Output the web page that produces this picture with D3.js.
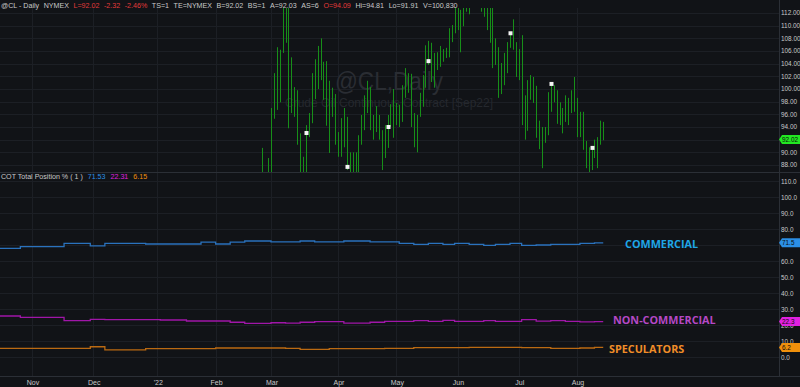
<!DOCTYPE html>
<html lang="en">
<head>
<meta charset="UTF-8">
<script src="https://d3js.org/d3.v7.min.js"></script>
<title>@CL Daily - COT Total Position %</title>
<style>
  body { margin: 0; background: #111317; }
  svg { display: block; font-family: "Liberation Sans", Arial, sans-serif; }
</style>
</head>
<body>
<div id="chart"></div>
<script>
// ---- data ----
const holidays = ["2021-11-25", "2021-12-24", "2022-01-17", "2022-02-21",
  "2022-04-15", "2022-05-30", "2022-06-20", "2022-07-04"];

// daily bars of the Sep22 contract, first bar on barStart
const barStart = "2022-02-24";
const barHigh = [
  90.7, 86.6, 89.1, 97.0, 102.5, 106.6, 106.2, 114.5, 115.0, 114.0,
  105.0, 100.3, 99.8, 93.0, 89.3, 94.3, 96.2, 102.5, 104.7, 106.8,
  108.0, 104.3, 104.4, 101.3, 100.2, 99.2, 93.2, 95.4, 97.0, 95.6,
  90.0, 90.0, 90.0, 92.7, 95.9, 99.0, 101.3, 100.3, 95.9, 97.3,
  95.9, 93.5, 94.3, 95.9, 97.6, 100.0, 97.8, 97.5, 100.6, 103.3,
  102.5, 102.4, 96.2, 95.9, 99.4, 102.2, 106.9, 107.6, 107.3, 105.7,
  105.8, 106.8, 106.3, 106.5, 109.6, 110.1, 113.8, 114.2, 112.5, 113.9,
  114.3, 114.6, 115.4, 116.0, 115.2, 114.1, 113.6, 114.0, 113.9, 113.1,
  108.0, 106.6, 104.1, 105.7, 107.4, 108.8, 111.0, 107.4, 106.3, 108.5,
  99.0, 101.4, 102.2, 101.9, 100.5, 95.0, 94.0, 94.0, 99.5, 100.9,
  100.6, 99.8, 97.9, 97.0, 99.0, 98.6, 99.8, 101.9, 98.6, 96.4,
  96.4, 91.8, 90.8, 90.8, 92.0, 92.4, 95.0, 94.81
];
const barLow = [
  86.0, 84.8, 86.0, 86.0, 95.3, 96.7, 97.9, 105.7, 107.3, 93.8,
  96.2, 95.6, 91.2, 85.5, 85.8, 85.9, 92.4, 94.6, 98.4, 100.0,
  101.4, 98.3, 94.2, 89.9, 95.6, 91.2, 89.3, 89.3, 90.8, 87.2,
  86.2, 86.0, 85.8, 86.3, 91.2, 93.5, 96.2, 93.5, 92.0, 93.2,
  92.0, 87.2, 89.1, 90.7, 94.0, 92.3, 94.3, 94.0, 94.8, 98.6,
  99.4, 94.0, 90.8, 90.0, 95.6, 97.2, 100.2, 103.8, 101.1, 100.2,
  103.0, 103.5, 104.3, 104.9, 105.0, 107.4, 108.8, 109.3, 105.8, 109.9,
  112.2, 111.8, 113.1, 113.3, 113.0, 112.2, 111.4, 109.3, 107.3, 103.3,
  103.8, 98.6, 99.2, 100.6, 102.5, 106.5, 106.2, 101.9, 101.4, 94.3,
  92.0, 93.4, 98.3, 97.8, 92.3, 90.5, 87.5, 91.5, 92.7, 96.4,
  97.9, 94.5, 94.3, 93.0, 94.8, 94.3, 96.2, 96.4, 92.4, 92.4,
  90.4, 87.5, 86.4, 87.2, 89.1, 87.5, 91.2, 91.91
];
const lastPrice = 92.02;

// white markers
const markerDates = ["2022-03-17", "2022-04-06", "2022-04-27", "2022-05-17",
  "2022-06-07", "2022-06-28", "2022-07-19", "2022-08-08"];
const markerPrices = [93.05, 87.7, 94.0, 104.4, 114.5, 108.8, 100.8, 90.7];

// weekly COT (Tuesdays from 2021-10-12 to 2022-08-09)
const cotFirst = "2021-10-12", cotLast = "2022-08-09";
const commercial = [
  68.1, 68.1, 69.2, 69.2, 69.2, 71.2, 71.2, 69.6, 71.2, 71.2,
  71.2, 70.8, 70.8, 70.8, 70.8, 72.0, 70.8, 72.0, 72.7, 72.7,
  72.1, 72.1, 72.7, 72.1, 72.1, 72.7, 72.7, 72.1, 72.1, 71.2,
  70.6, 71.2, 70.6, 71.2, 70.6, 70.0, 70.6, 71.2, 70.0, 70.2,
  70.6, 70.6, 71.2, 71.53
];
const nonCommercial = [
  25.8, 25.8, 25.0, 25.0, 25.0, 22.9, 22.9, 23.7, 23.5, 23.5,
  23.5, 23.5, 23.3, 23.3, 22.7, 22.7, 22.7, 21.9, 21.2, 21.2,
  21.6, 21.4, 21.9, 22.3, 22.3, 21.4, 21.4, 21.9, 22.5, 22.5,
  22.9, 22.5, 23.1, 22.5, 22.5, 22.9, 22.5, 22.5, 23.5, 22.6,
  22.9, 22.5, 22.1, 22.31
];
const speculators = [
  5.6, 5.6, 5.6, 5.6, 5.6, 5.6, 5.6, 6.6, 4.6, 4.6,
  4.6, 5.4, 5.4, 5.4, 5.4, 5.4, 5.8, 5.8, 5.8, 5.8,
  5.8, 5.6, 5.0, 5.0, 5.4, 5.4, 5.4, 5.4, 5.6, 5.6,
  6.0, 6.0, 6.0, 6.0, 6.2, 6.2, 6.2, 6.2, 6.0, 6.0,
  5.6, 5.6, 5.8, 6.15
];
const seriesNames = ["COMMERCIAL", "NON-COMMERCIAL", "SPECULATORS"];

// axis labels
const monthLabels = ["Nov", "Dec", "'22", "Feb", "Mar", "Apr", "May", "Jun", "Jul", "Aug"];
const monthStarts = ["2021-11-01", "2021-12-01", "2022-01-03", "2022-02-01", "2022-03-01",
  "2022-04-01", "2022-05-02", "2022-06-01", "2022-07-01", "2022-08-01"];
const priceTicks = [112, 110, 108, 106, 104, 102, 100, 98, 96, 94, 90, 88];
const cotTicks = [110, 100, 90, 80, 60, 50, 40, 30, 20, 10, 0];

// header strings
const headerText = ["@CL - Daily", "NYMEX", "L=92.02", "-2.32", "-2.46%", "TS=1", "TE=NYMEX",
  "B=92.02", "BS=1", "A=92.03", "AS=6", "O=94.09", "Hi=94.81", "Lo=91.91", "V=100,830"];
const headerRed = [false, false, true, true, true, false, false,
  false, false, false, false, true, false, false, false];
const cotLegend = ["COT Total Position % ( 1 )", "71.53", "22.31", "6.15"];

// ---- layout ----
const width = 800, height = 387;
const axisX = 779;
const priceTop = 8, priceBottom = 172;
const cotTop = 174, cotBottom = 376;

const bg = "#111317", grid = "#1c1f25", textCol = "#c9c9c9";
const lineColors = ["#2a72bd", "#a016a8", "#bb6a12"];
const badgeColors = ["#2b8fe6", "#e021e0", "#f0900c"];
const labelColors = ["#1fa6e6", "#b548c6", "#f08d28"];

// trading calendar for the x axis
const parse = d3.timeParse("%Y-%m-%d");
const fmt = d3.timeFormat("%Y-%m-%d");
const holidaySet = new Set(holidays);
const tradingDays = d3.timeDay.range(parse("2021-10-01"), parse("2022-08-13"))
  .filter(d => d.getDay() !== 0 && d.getDay() !== 6 && !holidaySet.has(fmt(d)));
const dayPos = new Map(tradingDays.map((d, i) => [fmt(d), i]));
const origin = dayPos.get("2021-11-01");
const idx = s => dayPos.get(s) - origin;

const x = d3.scaleLinear()
  .domain([idx("2021-11-01"), idx("2022-08-01")])
  .range([32, 577]);

const yPrice = d3.scaleLinear().domain([88, 112]).range([165, 13]);
const yCot = d3.scaleLinear().domain([0, 110]).range([357.3, 181.3]);

const svg = d3.select("#chart").append("svg")
  .attr("width", width)
  .attr("height", height);

svg.append("rect").attr("width", width).attr("height", height).attr("fill", bg);

const defs = svg.append("defs");
defs.append("clipPath").attr("id", "clip-price").append("rect")
  .attr("x", 0).attr("y", priceTop).attr("width", axisX).attr("height", priceBottom - priceTop);
defs.append("clipPath").attr("id", "clip-cot").append("rect")
  .attr("x", 0).attr("y", cotTop).attr("width", axisX).attr("height", cotBottom - cotTop);

// gridlines
const gridG = svg.append("g").attr("stroke", grid).attr("stroke-width", 1);
gridG.selectAll("line.hp").data(priceTicks.concat([92])).join("line")
  .attr("class", "hp")
  .attr("x1", 0).attr("x2", axisX)
  .attr("y1", d => Math.round(yPrice(d)) + 0.5).attr("y2", d => Math.round(yPrice(d)) + 0.5);
gridG.selectAll("line.hc").data(cotTicks.concat([70])).join("line")
  .attr("class", "hc")
  .attr("x1", 0).attr("x2", axisX)
  .attr("y1", d => Math.round(yCot(d)) + 0.5).attr("y2", d => Math.round(yCot(d)) + 0.5);
gridG.selectAll("line.v").data(monthStarts).join("line")
  .attr("class", "v")
  .attr("x1", d => Math.round(x(idx(d))) + 0.5).attr("x2", d => Math.round(x(idx(d))) + 0.5)
  .attr("y1", priceTop).attr("y2", cotBottom);

// watermark
svg.append("text")
  .attr("x", 389).attr("y", 90)
  .attr("text-anchor", "middle")
  .attr("font-size", 25)
  .attr("textLength", 108).attr("lengthAdjust", "spacingAndGlyphs")
  .attr("fill", "#2a2d33")
  .text("@CL,Daily");
svg.append("text")
  .attr("x", 389).attr("y", 107)
  .attr("text-anchor", "middle")
  .attr("font-size", 12.5)
  .attr("textLength", 208).attr("lengthAdjust", "spacingAndGlyphs")
  .attr("fill", "#25282e")
  .text("Crude Oil Continuous Contract [Sep22]");

// price bars
const startPos = idx(barStart);
const bars = barHigh.map((h, i) => ({ i: startPos + i, high: h, low: barLow[i] }));

svg.append("g")
  .attr("clip-path", "url(#clip-price)")
  .selectAll("line")
  .data(bars)
  .join("line")
  .attr("x1", d => Math.round(x(d.i)) + 0.5)
  .attr("x2", d => Math.round(x(d.i)) + 0.5)
  .attr("y1", d => yPrice(d.high))
  .attr("y2", d => yPrice(d.low))
  .attr("stroke", "#178f19")
  .attr("stroke-width", 1);

// markers
svg.append("g")
  .attr("clip-path", "url(#clip-price)")
  .selectAll("rect")
  .data(markerDates.map((d, i) => ({ i: idx(d), p: markerPrices[i] })))
  .join("rect")
  .attr("x", d => Math.round(x(d.i)) - 1.5)
  .attr("y", d => yPrice(d.p) - 2)
  .attr("width", 4).attr("height", 4)
  .attr("fill", "#f4f4f4");

// COT lines
const cotDates = d3.timeTuesday.range(parse(cotFirst), d3.timeDay.offset(parse(cotLast), 1)).map(fmt);
const lastDay = fmt(tradingDays[tradingDays.length - 1]);
const series = [commercial, nonCommercial, speculators].map(vals => {
  const pts = cotDates.map((d, i) => ({ i: idx(d), v: vals[i] }));
  pts.push({ i: idx(lastDay), v: vals[vals.length - 1] });
  return pts;
});

const line = d3.line()
  .x(d => x(d.i))
  .y(d => yCot(d.v))
  .curve(d3.curveStepAfter);

svg.append("g")
  .attr("clip-path", "url(#clip-cot)")
  .selectAll("path")
  .data(series)
  .join("path")
  .attr("d", line)
  .attr("fill", "none")
  .attr("stroke", (d, i) => lineColors[i])
  .attr("stroke-width", 1.3);

// series labels
const labelPos = [[625, 248], [613, 323.5], [609, 352.5]];
svg.append("g")
  .selectAll("text")
  .data(seriesNames)
  .join("text")
  .attr("x", (d, i) => labelPos[i][0])
  .attr("y", (d, i) => labelPos[i][1])
  .attr("font-family", "'Open Sans', sans-serif")
  .attr("font-weight", 700)
  .attr("font-size", 10.8)
  .attr("fill", (d, i) => labelColors[i])
  .text(d => d);

// panel borders
svg.append("line").attr("x1", 0).attr("x2", width).attr("y1", 172.5).attr("y2", 172.5)
  .attr("stroke", "#2b2f36");
svg.append("line").attr("x1", 0).attr("x2", width).attr("y1", 376.5).attr("y2", 376.5)
  .attr("stroke", "#2b2f36");
svg.append("line").attr("x1", axisX + 0.5).attr("x2", axisX + 0.5).attr("y1", 0).attr("y2", 376)
  .attr("stroke", "#2b2f36");

// right axis labels
svg.append("g")
  .selectAll("text")
  .data(priceTicks)
  .join("text")
  .attr("x", 781)
  .attr("y", d => yPrice(d) + 2.3)
  .attr("font-size", 6.4)
  .attr("fill", textCol)
  .text(d3.format(".2f"));

svg.append("g")
  .selectAll("text")
  .data(cotTicks)
  .join("text")
  .attr("x", 781)
  .attr("y", d => yCot(d) + 2.3)
  .attr("font-size", 6.4)
  .attr("fill", textCol)
  .text(d3.format(".1f"));

// badges on the right axis
function badge(yc, fill, label) {
  svg.append("path")
    .attr("d", `M${axisX},${yc} L${axisX + 3},${yc - 4.5} L${width},${yc - 4.5} L${width},${yc + 4.5} L${axisX + 3},${yc + 4.5} Z`)
    .attr("fill", fill);
  svg.append("text")
    .attr("x", axisX + 3).attr("y", yc + 2.3)
    .attr("font-size", 6.4)
    .attr("fill", "#0b0b0b")
    .text(label);
}
badge(yPrice(lastPrice), "#22e622", d3.format(".2f")(lastPrice));
[commercial, nonCommercial, speculators].forEach((vals, i) => {
  const v = vals[vals.length - 1];
  badge(yCot(v), badgeColors[i], d3.format(".1f")(v));
});

// x axis labels
svg.append("g")
  .selectAll("text")
  .data(monthStarts)
  .join("text")
  .attr("x", d => x(idx(d)) + 1)
  .attr("y", 385)
  .attr("text-anchor", "middle")
  .attr("font-size", 7)
  .attr("fill", textCol)
  .text((d, i) => monthLabels[i]);

// header line
const header = svg.append("text").attr("y", 7.5).attr("font-size", 7.1);
let hx = 1;
headerText.forEach((t, i) => {
  const ts = header.append("tspan")
    .attr("x", hx)
    .attr("fill", headerRed[i] ? "#e23a3a" : textCol)
    .text(t);
  hx += ts.node().getComputedTextLength() + 4.6;
});

// COT legend
const legend = svg.append("text").attr("y", 179).attr("font-size", 7.1);
const legendColors = [textCol].concat(badgeColors);
let lx = 1;
cotLegend.forEach((t, i) => {
  const ts = legend.append("tspan")
    .attr("x", lx)
    .attr("fill", legendColors[i])
    .text(t);
  lx += ts.node().getComputedTextLength() + 5;
});
</script>
</body>
</html>
